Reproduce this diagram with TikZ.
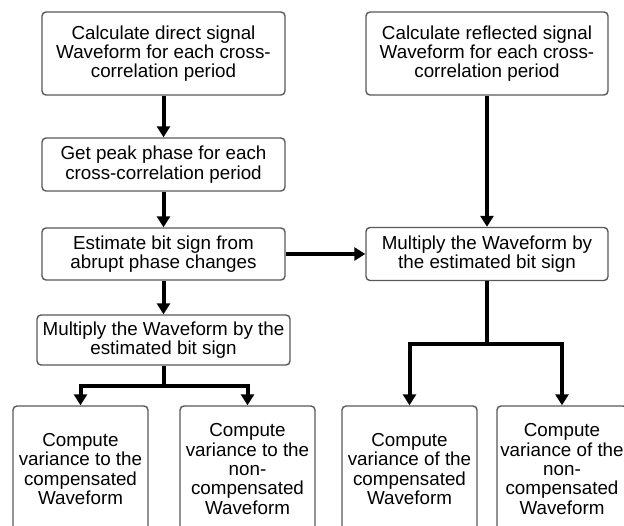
\documentclass[tikz,border=0pt]{standalone}
\usepackage{fontspec}
\setmainfont{Liberation Sans}
\usetikzlibrary{arrows.meta}
\begin{document}
\begin{tikzpicture}[x=1pt,y=-1pt,
  box/.style={draw=black!65,line width=1.4pt,rounded corners=4pt,fill=white,
    align=center,font=\fontsize{18.8}{19.3}\selectfont,inner sep=0pt},
  conn/.style={line width=4pt,line join=miter},
  arr/.style={conn,-{Triangle[length=11pt,width=13pt]}}]
\useasboundingbox (0,0) rectangle (624,525);
\begin{scope}
\clip (0,0) rectangle (624,525);
\node[box,minimum width=243pt,minimum height=83pt] (A) at (163.5,53.5) {Calculate direct signal\\Waveform for each cross-\\correlation period};
\node[box,minimum width=243pt,minimum height=53pt] (B) at (163.5,164.5) {Get peak phase for each\\cross-correlation period};
\node[box,minimum width=243pt,minimum height=52pt] (C) at (163.5,254) {Estimate bit sign from\\abrupt phase changes};
\node[box,minimum width=253pt,minimum height=50pt] (D) at (163.5,340) {Multiply the Waveform by the\\estimated bit sign};
\node[box,minimum width=242pt,minimum height=83pt] (E) at (487,53.5) {Calculate reflected signal\\Waveform for each cross-\\correlation period};
\node[box,minimum width=242pt,minimum height=53pt] (F) at (487,254) {Multiply the Waveform by\\the estimated bit sign};
\node[box,minimum width=135pt,minimum height=126pt] (G) at (80.5,469) {Compute\\variance to the\\compensated\\Waveform};
\node[box,minimum width=135pt,minimum height=126pt] (H) at (247.5,469) {Compute\\variance to the\\non-\\compensated\\Waveform};
\node[box,minimum width=135pt,minimum height=126pt] (I) at (409.5,469) {Compute\\variance of the\\compensated\\Waveform};
\node[box,minimum width=130pt,minimum height=126pt] (J) at (562,469) {Compute\\variance of the\\non-\\compensated\\Waveform};
\draw[arr] (A) -- (B);
\draw[arr] (B) -- (C);
\draw[arr] (C) -- (D);
\draw[arr] (E) -- (F);
\draw[arr] (C) -- (F);
\draw[conn] (D.south) -- ++(0,20) coordinate (j1);
\draw[arr] (j1) -| (G.north);
\draw[arr] (j1) -| (H.north);
\draw[conn] (F.south) -- ++(0,63) coordinate (j2);
\draw[arr] (j2) -| (I.north);
\draw[arr] (j2) -| (J.north);
\end{scope}
\end{tikzpicture}
\end{document}
